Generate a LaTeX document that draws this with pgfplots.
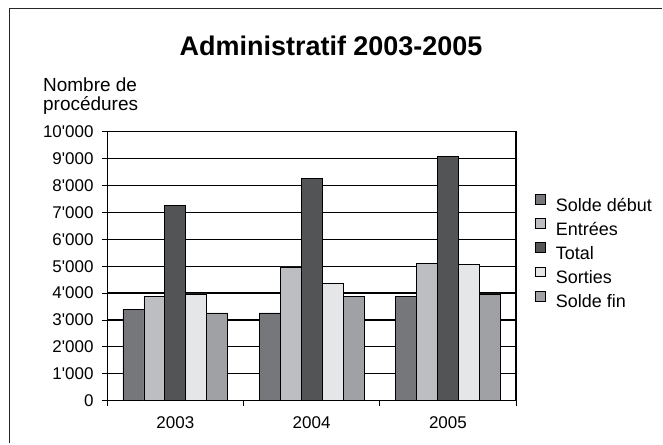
\documentclass[border=0pt]{standalone}
\usepackage{pgfplots}
\pgfplotsset{compat=1.18}
\usepackage{fontspec}
\setmainfont{Liberation Sans}
\definecolor{cSD}{HTML}{76777A}
\definecolor{cEN}{HTML}{BDBEC2}
\definecolor{cTO}{HTML}{535456}
\definecolor{cSO}{HTML}{E5E6E8}
\definecolor{cSF}{HTML}{A0A1A4}
\newcommand{\q}{\textquotesingle}
\begin{document}
\begin{tikzpicture}[x=1pt,y=1pt]
% picture frame: image pixel (X,Y) -> (X-107.3, 401-Y)
\path (-107.3,-43) rectangle (555.7,401);
\draw[line width=1.6pt, black!85] (-97.8,-43) -- (-97.8,392.5) -- (555.7,392.5);
\node[anchor=base, inner sep=0pt, font=\fontsize{27}{31}\selectfont\bfseries] at (224.2,345) {Administratif 2003-2005};
\node[anchor=base west, inner sep=0pt, font=\fontsize{19}{22}\selectfont] at (-64.3,309) {Nombre de};
\node[anchor=base west, inner sep=0pt, font=\fontsize{19}{22}\selectfont] at (-64.3,290.5) {procédures};
\begin{axis}[
  scale only axis, width=409.4pt, height=269pt,
  ybar=0pt, bar width=21pt,
  xmin=-0.5, xmax=2.5, ymin=0, ymax=10000,
  scaled y ticks=false,
  xtick pos=bottom, ytick pos=left,
  xtick={0,1,2}, xticklabels={2003,2004,2005},
  x tick style={draw=none},
  extra x ticks={-0.5,0.5,1.5,2.5}, extra x tick labels={},
  extra x tick style={x tick style={draw=black, line width=0.8pt}, major tick length=5.5pt, tick align=outside, grid=none, xtick pos=bottom},
  ytick={0,1000,...,10000},
  yticklabels={0,1\q000,2\q000,3\q000,4\q000,5\q000,6\q000,7\q000,8\q000,9\q000,10\q000},
  tick align=outside, major tick length=5.5pt,
  y tick style={black, line width=0.8pt},
  ymajorgrids, grid style={black, line width=1.3pt},
  axis line style={black, line width=1.3pt},
  tick label style={font=\fontsize{17}{20}\selectfont},
  yticklabel style={anchor=east, inner sep=0pt, xshift=-8pt},
  xticklabel style={anchor=base, inner sep=0pt, yshift=-22.5pt},
  legend style={at={(1.047,0.767)}, anchor=north west, draw=none, fill=none,
    font=\fontsize{18}{21}\selectfont, row sep=7.25pt, inner sep=0pt, outer sep=0pt,
    nodes={inner sep=0pt, text height=13pt, text depth=0pt},
    /tikz/every odd column/.append style={column sep=10pt}},
  legend cell align=left,
  legend image code/.code={\draw[#1, draw=black, line width=0.6pt] (0pt,0pt) rectangle (10pt,10pt);},
  every axis plot/.append style={draw=black, line width=0.7pt},
]
\addplot[fill=cSD] coordinates {(0,3400) (1,3260) (2,3890)};
\addplot[fill=cEN] coordinates {(0,3890) (1,4970) (2,5100)};
\addplot[fill=cTO] coordinates {(0,7260) (1,8280) (2,9070)};
\addplot[fill=cSO] coordinates {(0,3970) (1,4360) (2,5070)};
\addplot[fill=cSF] coordinates {(0,3260) (1,3890) (2,3970)};
\legend{Solde début,Entrées,Total,Sorties,Solde fin}
\end{axis}
\end{tikzpicture}
\end{document}
